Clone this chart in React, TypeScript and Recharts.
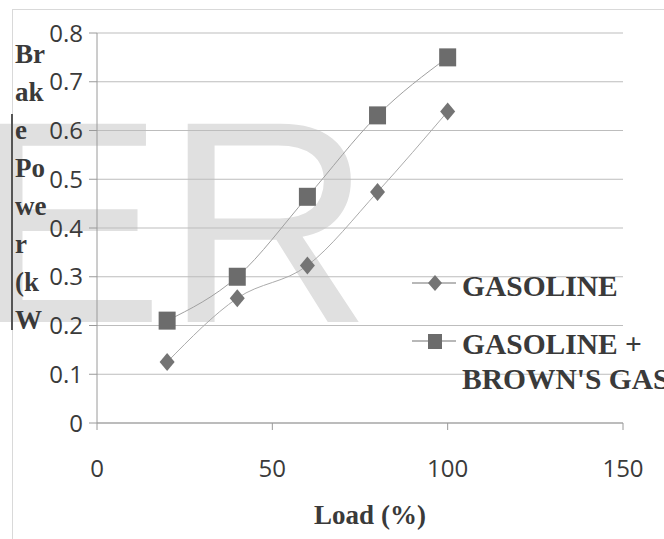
import React from 'react';
import { LineChart, Line, XAxis, YAxis, CartesianGrid } from 'recharts';

// values
const loads = [20, 40, 60, 80, 100];
const gasoline = [0.125, 0.256, 0.323, 0.474, 0.639];
const brownsGas = [0.21, 0.3, 0.464, 0.631, 0.75];
const xTicks = [0, 50, 100, 150];
const yTicks = [0, 0.1, 0.2, 0.3, 0.4, 0.5, 0.6, 0.7, 0.8];
const yLabelLines = ['Br', 'ak', 'e', 'Po', 'we', 'r', '(k', 'W'];
const legendItems = [
  { key: 'gasoline', lines: ['GASOLINE'], marker: 'diamond' },
  { key: 'browns', lines: ['GASOLINE +', "BROWN'S GAS"], marker: 'square' },
];

const data = loads.map((load, i) => ({ load, gasoline: gasoline[i], browns: brownsGas[i] }));

const serif = '"Liberation Serif", "Times New Roman", serif';
const sans = '"Open Sans", sans-serif';
const textColor = '#3a3a3a';

const Diamond = (props: any) => {
  const { cx, cy, index } = props;
  if (cx == null || cy == null) return <g key={`d-${index}`} />;
  return (
    <path
      key={`d-${index}`}
      d={`M${cx},${cy - 9}L${cx + 7.5},${cy}L${cx},${cy + 9}L${cx - 7.5},${cy}Z`}
      fill="#747474"
    />
  );
};

const Square = (props: any) => {
  const { cx, cy, index } = props;
  if (cx == null || cy == null) return <g key={`s-${index}`} />;
  return <rect key={`s-${index}`} x={cx - 8.5} y={cy - 9} width={17} height={18} fill="#6c6c6c" />;
};

const YLabel = () => (
  <g>
    {yLabelLines.map((t, i) => (
      <text
        key={t + i}
        x={15}
        y={54 + i * 37.9}
        dy="0.35em"
        fontFamily={serif}
        fontWeight="bold"
        fontSize={27}
        fill={textColor}
      >
        {t}
      </text>
    ))}
  </g>
);

const XLabel = () => (
  <text x={370} y={515} dy="0.35em" textAnchor="middle" fontFamily={serif} fontWeight="bold" fontSize={27} fill={textColor}>
    Load (%)
  </text>
);

function ChartLegend() {
  return (
    <div style={{ position: 'absolute', left: 412, top: 269 }}>
      {legendItems.map((item, i) => (
        <div key={item.key} style={{ display: 'flex', alignItems: 'flex-start', marginTop: i === 0 ? 0 : 23 }}>
          <svg width={50} height={35} style={{ flex: 'none' }}>
            <line x1={0} x2={44} y1={14} y2={14} stroke="#a0a0a0" strokeWidth={1.5} />
            {item.marker === 'diamond' ? (
              <path d="M23,6L30,14L23,22L16,14Z" fill="#747474" />
            ) : (
              <rect x={16} y={7} width={14} height={15} fill="#6c6c6c" />
            )}
          </svg>
          <div
            style={{
              fontFamily: serif,
              fontWeight: 'bold',
              fontSize: 29.5,
              lineHeight: '35px',
              color: textColor,
              whiteSpace: 'nowrap',
            }}
          >
            {item.lines.map((l) => (
              <div key={l}>{l}</div>
            ))}
          </div>
        </div>
      ))}
    </div>
  );
}

export default function App() {
  return (
    <div
      style={{
        position: 'absolute',
        left: 0,
        top: 0,
        width: 664,
        height: 539,
        overflow: 'hidden',
        background: '#fff',
      }}
    >
      {/* outer frame */}
      <div
        style={{
          position: 'absolute',
          left: 12,
          top: 9,
          width: 700,
          height: 600,
          border: '1px solid #d9d9d9',
        }}
      />
      {/* watermark */}
      <svg width={664} height={539} style={{ position: 'absolute', left: 0, top: 0 }}>
        <text x={-28} y={322} fontFamily='"Liberation Sans", Arial, sans-serif' fontSize={288} fill="#e0e0e0">
          ER
        </text>
        <line x1={12} x2={12} y1={114} y2={330} stroke="#555" strokeWidth={2} />
      </svg>
      <div style={{ position: 'absolute', left: 0, top: 0 }}>
        <LineChart width={664} height={539} data={data} margin={{ top: 33, right: 41, bottom: 0, left: 0 }}>
          <CartesianGrid vertical={false} stroke="#bdbdbd" />
          <XAxis
            dataKey="load"
            type="number"
            domain={[0, 150]}
            ticks={xTicks}
            height={116}
            tickSize={7}
            tickMargin={30}
            stroke="#9a9a9a"
            tick={{ fill: textColor, fontSize: 24, fontFamily: sans }}
            label={{ content: <XLabel /> }}
          />
          <YAxis
            type="number"
            domain={[0, 0.8]}
            ticks={yTicks}
            width={97}
            tickSize={8}
            tickMargin={6}
            stroke="#9a9a9a"
            tick={{ fill: textColor, fontSize: 24, fontFamily: sans }}
            tickFormatter={(v) => String(v)}
            label={{ content: <YLabel /> }}
          />
          <Line
            dataKey="gasoline"
            name="GASOLINE"
            type="monotone"
            stroke="#ababab"
            strokeWidth={1}
            dot={Diamond}
            activeDot={false}
            isAnimationActive={false}
          />
          <Line
            dataKey="browns"
            name="GASOLINE + BROWN'S GAS"
            type="monotone"
            stroke="#a0a0a0"
            strokeWidth={1}
            dot={Square}
            activeDot={false}
            isAnimationActive={false}
          />
        </LineChart>
      </div>
      <ChartLegend />
    </div>
  );
}
